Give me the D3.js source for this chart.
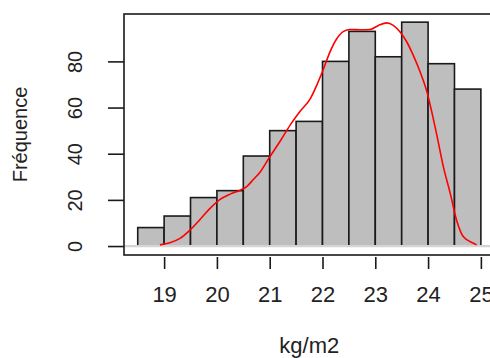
<!DOCTYPE html>
<html>
<head>
<meta charset="utf-8">
<script src="https://cdn.jsdelivr.net/npm/d3@7"></script>
<style>
  html, body { margin: 0; padding: 0; background: #fff; }
  svg { display: block; }
  text { font-family: "Liberation Sans", Arial, sans-serif; fill: #222; }
</style>
</head>
<body>
<svg id="chart" width="490" height="358"></svg>
<script>
// ---- data ----
const binStarts = [18.5, 19, 19.5, 20, 20.5, 21, 21.5, 22, 22.5, 23, 23.5, 24, 24.5];
const binWidth = 0.5;
const counts = [8, 13, 21, 24, 39, 50, 54, 80, 93, 82, 97, 79, 68];

const curveX = [18.92, 19.11, 19.30, 19.49, 19.68, 19.87, 20.06, 20.25, 20.44, 20.57, 20.69, 20.82,
                21.00, 21.20, 21.39, 21.58, 21.77, 21.89, 22.02, 22.14, 22.27, 22.40, 22.52, 22.71,
                22.90, 23.06, 23.22, 23.34, 23.47, 23.60, 23.72, 23.85, 23.98, 24.07, 24.16, 24.29,
                24.42, 24.54, 24.67, 24.86, 24.92];
const curveY = [0.5, 1.4, 3.3, 6.9, 11.5, 16.3, 20.2, 22.5, 24.2, 25.9, 28.8, 32.1,
                38.6, 45.5, 52.5, 58.5, 63.9, 69.6, 76.8, 84.0, 89.8, 93.0, 93.8, 93.7,
                93.8, 95.6, 96.7, 95.6, 92.7, 88.3, 82.6, 75.4, 66.7, 58.1, 48.7, 34.3,
                22.8, 11.2, 4.0, 1.2, 0.5];

const xTicks = [19, 20, 21, 22, 23, 24, 25];
const yTicks = [0, 20, 40, 60, 80];
const xLabel = "kg/m2";
const yLabel = "Fréquence";

// ---- layout ----
const plot = { left: 124, top: 14, bottom: 255, right: 494.6 };

const x = d3.scaleLinear().domain([18.24, 25.26]).range([plot.left, plot.right]);
const y = d3.scaleLinear().domain([-3.88, 100.88]).range([plot.bottom, 13.2]);

const svg = d3.select("#chart");

// bars
svg.append("g").selectAll("rect")
  .data(binStarts.map((s, i) => ({ s, c: counts[i] })))
  .join("rect")
  .attr("x", d => x(d.s))
  .attr("width", d => x(d.s + binWidth) - x(d.s))
  .attr("y", d => y(d.c))
  .attr("height", d => y(0) - y(d.c))
  .attr("fill", "#bebebe")
  .attr("stroke", "#1a1a1a")
  .attr("stroke-width", 1.6);

// baseline (gray)
svg.append("line")
  .attr("x1", plot.left).attr("x2", plot.right)
  .attr("y1", y(0)).attr("y2", y(0))
  .attr("stroke", "#d4d4d4")
  .attr("stroke-width", 2.2);

// density curve
const line = d3.line()
  .x((d, i) => x(curveX[i]))
  .y((d, i) => y(curveY[i]))
  .curve(d3.curveMonotoneX);
svg.append("path")
  .datum(curveY)
  .attr("d", line)
  .attr("fill", "none")
  .attr("stroke", "#ff0000")
  .attr("stroke-width", 1.6);

// plot box
svg.append("rect")
  .attr("x", plot.left).attr("y", plot.top)
  .attr("width", plot.right - plot.left)
  .attr("height", plot.bottom - plot.top)
  .attr("fill", "none")
  .attr("stroke", "#1a1a1a")
  .attr("stroke-width", 1.6);

// x axis
const gx = svg.append("g")
  .attr("transform", `translate(0,257)`)
  .call(d3.axisBottom(x).tickValues(xTicks).tickFormat(d3.format("d")).tickSize(12).tickPadding(0));
gx.select(".domain").remove();
gx.selectAll(".tick line").attr("stroke", "#1a1a1a").attr("stroke-width", 1.6);
gx.selectAll(".tick text")
  .attr("y", 45).attr("dy", 0)
  .style("font-size", "22px")
  .style("font-family", "'Liberation Sans', Arial, sans-serif")
  .attr("fill", "#222");

// y axis
const gy = svg.append("g")
  .attr("transform", `translate(${plot.left},0)`)
  .call(d3.axisLeft(y).tickValues(yTicks).tickFormat(d3.format("d")).tickSize(16).tickPadding(0));
gy.select(".domain").remove();
gy.selectAll(".tick line").attr("stroke", "#1a1a1a").attr("stroke-width", 1.6);
gy.selectAll(".tick text")
  .attr("x", 0).attr("dy", 0)
  .attr("text-anchor", "middle")
  .attr("transform", "translate(-42,0) rotate(-90)")
  .style("font-size", "20px")
  .style("font-family", "'Liberation Sans', Arial, sans-serif")
  .attr("fill", "#222");

// axis titles
svg.append("text")
  .attr("x", (plot.left + plot.right) / 2)
  .attr("y", 353)
  .attr("text-anchor", "middle")
  .style("font-size", "22px")
  .text(xLabel);

svg.append("text")
  .attr("transform", `translate(27,${(plot.top + plot.bottom) / 2}) rotate(-90)`)
  .attr("text-anchor", "middle")
  .style("font-size", "20px")
  .text(yLabel);
</script>
</body>
</html>
